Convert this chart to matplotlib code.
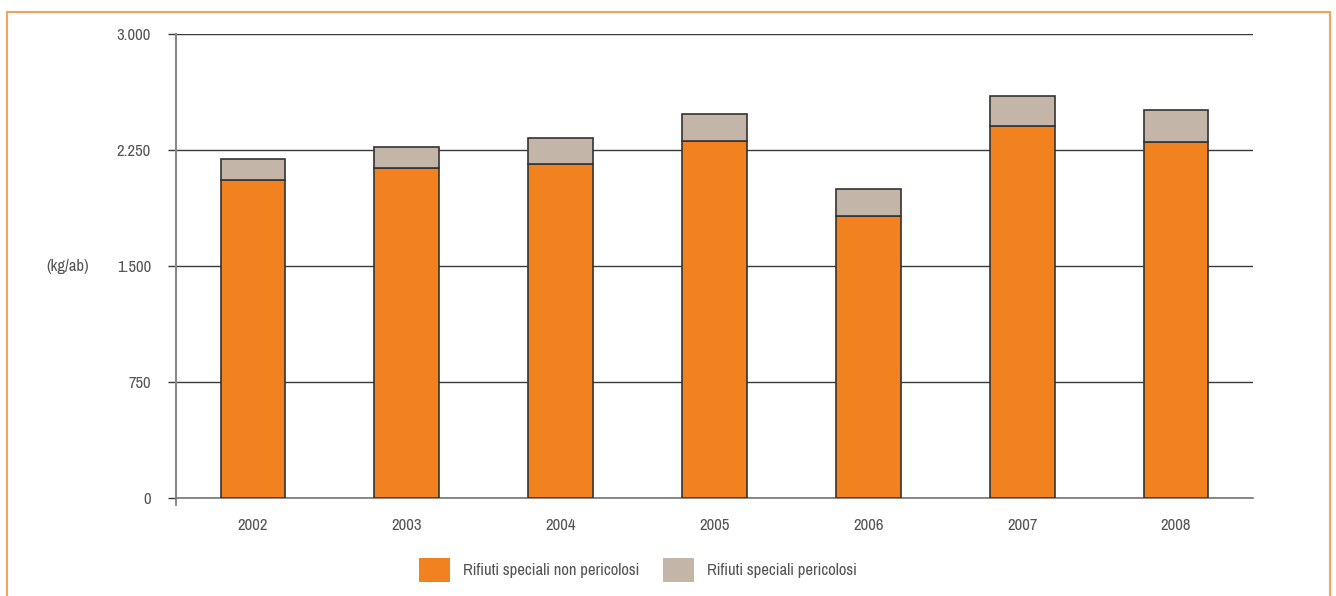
import matplotlib
matplotlib.use('Agg')
import matplotlib.pyplot as plt
from matplotlib import font_manager
from matplotlib.patches import Patch
from matplotlib.lines import Line2D
import numpy as np

# -----------------
# Data
# -----------------

years = ['2002', '2003', '2004', '2005', '2006', '2007', '2008']
non_pericolosi = [2055, 2130, 2158, 2306, 1823, 2403, 2300]
pericolosi = [135, 139, 165, 171, 174, 190, 203]
y_ticks = [0, 750, 1500, 2250, 3000]
y_tick_labels = ['0', '750', '1.500', '2.250', '3.000']
labels = ['Rifiuti speciali non pericolosi', 'Rifiuti speciali pericolosi']

ORANGE = '#F28220'
BEIGE = '#C3B5A8'
TEXT = '#555555'
FRAME = '#F5A25D'

# The original uses a condensed face; take one if the system has it
condensed = [f.name for f in font_manager.fontManager.ttflist
             if ('Narrow' in f.name or 'Condensed' in f.name) and f.weight in (400, 'normal', 'regular')]
if condensed:
    plt.rcParams['font.family'] = [condensed[0], 'DejaVu Sans']
    FS = 12
else:
    plt.rcParams['font.family'] = ['Liberation Sans', 'DejaVu Sans']
    FS = 11

# -----------------
# Figure
# -----------------

fig = plt.figure(figsize=(13.36, 5.96), dpi=100)
ax = fig.add_axes([176 / 1336, 1 - 497.5 / 596, (1253 - 176) / 1336, (497.5 - 33.5) / 596])

x = np.arange(len(years))
ax.bar(x, non_pericolosi, width=0.42, color=ORANGE, edgecolor='#333333', linewidth=1.2, zorder=3)
ax.bar(x, pericolosi, width=0.42, bottom=non_pericolosi, color=BEIGE, edgecolor='#333333',
       linewidth=1.2, zorder=3)

ax.set_xlim(-0.5, len(years) - 0.5)
ax.set_ylim(0, 3000)
ax.set_yticks(y_ticks)
ax.set_yticklabels(y_tick_labels)
ax.set_xticks(x)
ax.set_xticklabels(years)
ax.set_xticks([-0.5], minor=True)

ax.grid(axis='y', color='#3a3a3a', linewidth=1.0, zorder=0)
ax.set_axisbelow(True)

for side in ['top', 'right']:
    ax.spines[side].set_visible(False)
ax.spines['left'].set_color('#888888')
ax.spines['left'].set_linewidth(1.5)
ax.spines['bottom'].set_color('#777777')
ax.spines['bottom'].set_linewidth(1.2)

ax.tick_params(axis='y', length=6, width=1.0, color='#3a3a3a', pad=12, labelsize=FS, labelcolor=TEXT)
ax.tick_params(axis='x', which='major', length=0, pad=15, labelsize=FS, labelcolor=TEXT)
ax.tick_params(axis='x', which='minor', length=6, width=1.2, color='#777777')

fig.text(68 / 1336, 1 - 266 / 596, '(kg/ab)', ha='center', va='center', fontsize=FS, color=TEXT)

# Legend below the plot
handles = [Patch(facecolor=ORANGE, edgecolor='none'), Patch(facecolor=BEIGE, edgecolor='none')]
fig.legend(handles, labels, loc='center', bbox_to_anchor=(638 / 1336, 1 - 570 / 596), ncol=2,
           frameon=False, fontsize=FS, labelcolor=TEXT, handlelength=1.86, handleheight=1.86,
           handletextpad=0.78, columnspacing=1.4)

# Thin orange frame around the chart (top, left, right)
fig.add_artist(Line2D([7 / 1336, 1330 / 1336], [1 - 12 / 596, 1 - 12 / 596], color=FRAME, linewidth=1.5))
fig.add_artist(Line2D([7 / 1336, 7 / 1336], [0, 1 - 12 / 596], color=FRAME, linewidth=1.5))
fig.add_artist(Line2D([1330 / 1336, 1330 / 1336], [0, 1 - 12 / 596], color=FRAME, linewidth=1.5))

fig.savefig('out.png', dpi=100)
